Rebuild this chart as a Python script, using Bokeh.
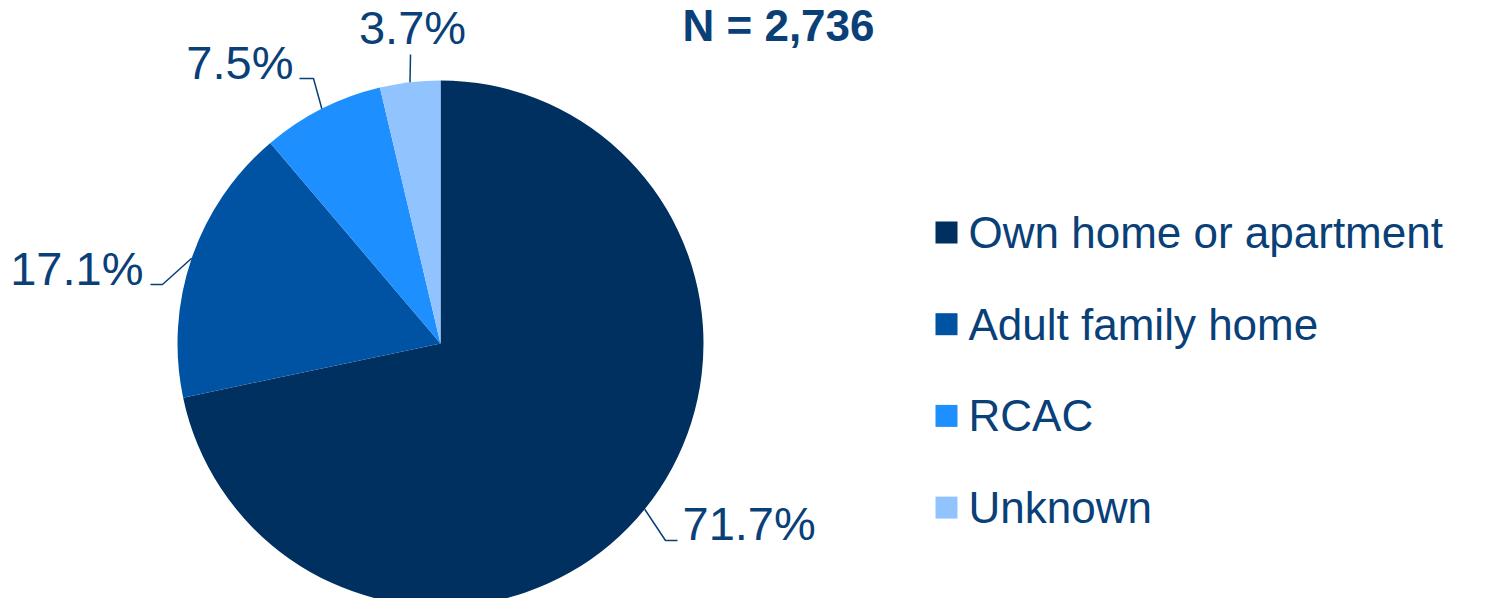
import math
from bokeh.plotting import figure
from bokeh.models import Range1d, ColumnDataSource
from bokeh.core.properties import value
from bokeh.embed import file_html
from bokeh.resources import INLINE

# ---- data ----
categories = ["Own home or apartment", "Adult family home", "RCAC", "Unknown"]
percents = [71.7, 17.1, 7.5, 3.7]
labels = ["71.7%", "17.1%", "7.5%", "3.7%"]
colors = ["#00305F", "#0052A3", "#1E8FFF", "#91C4FF"]
title_text = "N = 2,736"

TEXT_COLOR = "#0A4078"
FONT = "Liberation Sans"

W, H = 1487, 598
p = figure(width=W, height=H, output_backend="svg", toolbar_location=None,
           x_range=Range1d(0, W), y_range=Range1d(0, H), min_border=0)
p.axis.visible = False
p.grid.visible = False
p.outline_line_color = None
p.background_fill_color = "white"
p.border_fill_color = "white"

TEXT_SHIFT = 17  # empirical correction for baseline placement

def Y(py):
    # convert picture pixel y to data y
    return H - py

def TY(py):
    return H - py + TEXT_SHIFT

cx, cy, r = 440, Y(343), 263

# wedges, clockwise from 12 o'clock
total = sum(percents)
starts, ends, mids = [], [], []
ang = 90.0
for v in percents:
    a2 = ang - v / total * 360.0
    starts.append(math.radians(ang))
    ends.append(math.radians(a2))
    mids.append(math.radians((ang + a2) / 2))
    ang = a2

src = ColumnDataSource(dict(start=starts, end=ends, color=colors, cat=categories))
p.wedge(x=cx, y=cy, radius=r, start_angle="end", end_angle="start",
        fill_color="color", line_color=None, source=src)

# leader lines: edge point (from slice mid-angle) -> elbow -> end
elbows = [(665, 540), (162, 284), (313, 78), (410, 54)]
ends_pt = [(677, 540), (150, 284), (299, 78), (410, 54)]
lx, ly = [], []
for m, e, t in zip(mids, elbows, ends_pt):
    ex, ey = cx + r * math.cos(m), cy + r * math.sin(m)
    lx.append([ex, e[0], t[0]])
    ly.append([ey, Y(e[1]), Y(t[1])])
p.multi_line(xs=lx, ys=ly, line_color=TEXT_COLOR, line_width=1.5)

# data labels
lab_x = [682, 143, 293, 412]
lab_y = [TY(540), TY(285), TY(79), TY(44)]
lab_align = ["left", "right", "right", "center"]
p.text(x=lab_x, y=lab_y, text=labels, text_align=lab_align,
       text_baseline="alphabetic", text_font=value(FONT),
       text_font_size="47px", text_color=TEXT_COLOR)

# title
p.text(x=[778], y=[Y(0)], text=[title_text], text_align="center",
       text_baseline="top", text_font=value(FONT),
       text_font_size="44px", text_font_style="bold", text_color=TEXT_COLOR)

# legend
leg_py = [232 + 91.7 * i for i in range(len(categories))]
p.rect(x=[946] * len(categories), y=[Y(v) for v in leg_py], width=22, height=22,
       fill_color=colors, line_color=None)
p.text(x=[968] * len(categories), y=[TY(v + 17) for v in leg_py], text=categories,
       text_align="left", text_baseline="alphabetic", text_font=value(FONT),
       text_font_size="44px", text_color=TEXT_COLOR)

open("out.html", "w").write(file_html(p, INLINE))
